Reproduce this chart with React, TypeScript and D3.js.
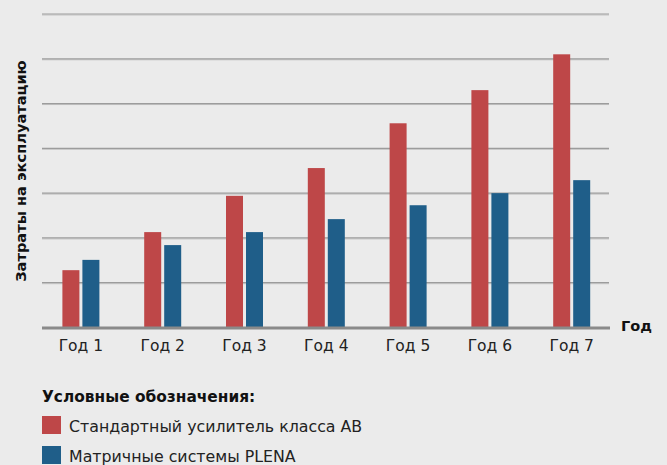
import { FC } from 'react'
import * as d3 from 'd3'

const years = ['Год 1', 'Год 2', 'Год 3', 'Год 4', 'Год 5', 'Год 6', 'Год 7']
const seriesNames = ['Стандартный усилитель класса АВ', 'Матричные системы PLENA']
const classAB = [1.28, 2.13, 2.94, 3.56, 4.56, 5.3, 6.1]
const plena = [1.51, 1.84, 2.13, 2.42, 2.73, 3.0, 3.29]
const gridTicks = [1, 2, 3, 4, 5, 6, 7]

const colors = ['#be4748', '#1f5e89']
const font = '"DejaVu Sans", Arial, sans-serif'

const width = 667
const height = 465

const App: FC = () => {
  const x = d3.scaleBand<string>()
    .domain(years)
    .range([40, 40 + 7 * 81.8])
    .padding(0)

  const x1 = d3.scaleBand<number>()
    .domain([0, 1])
    .range([-18.5, 18.5])
    .paddingInner(0.15)

  const y = d3.scaleLinear()
    .domain([0, 7])
    .range([327.5, 14])

  const values = [classAB, plena]

  return (
    <svg width={width} height={height}
      style={{ position: 'absolute', left: 0, top: 0, background: '#ebebeb', fontFamily: font }}>
      <rect width={width} height={height} fill="#ebebeb" />
      {gridTicks.map(t => (
        <g key={t}>
          <line x1={42} x2={609} y1={y(t) + 1} y2={y(t) + 1} stroke="#c4c4c4" strokeWidth={1} />
          <line x1={42} x2={609} y1={y(t)} y2={y(t)} stroke="#9c9c9c" strokeWidth={1.2} />
        </g>
      ))}
      {years.map((yr, i) => {
        const cx = (x(yr) || 0) + x.bandwidth() / 2
        return (
          <g key={yr}>
            {values.map((s, j) => (
              <rect key={j}
                x={cx + (x1(j) || 0)}
                y={y(s[i])}
                width={x1.bandwidth()}
                height={y(0) - y(s[i])}
                fill={colors[j]} />
            ))}
            <text x={cx} y={351} textAnchor="middle" fontSize={15.5} fill="#222">{yr}</text>
          </g>
        )
      })}
      <line x1={42} x2={610} y1={y(0) + 0.5} y2={y(0) + 0.5} stroke="#8a8a8a" strokeWidth={3} />
      <text x={621} y={331} fontSize={14.5} fontWeight="bold" fill="#111">Год</text>
      <text transform="translate(26,171) rotate(-90)" textAnchor="middle"
        fontSize={14.6} fontWeight="bold" fill="#111">Затраты на эксплуатацию</text>

      <text x={42} y={402} fontSize={15.4} fontWeight="bold" fill="#111">Условные обозначения:</text>
      {seriesNames.map((name, i) => (
        <g key={name} transform={`translate(42,${416 + i * 30})`}>
          <rect width={19} height={18} fill={colors[i]} />
          <text x={27} y={16} fontSize={15.8} fill="#222">{name}</text>
        </g>
      ))}
    </svg>
  )
}

export default App
